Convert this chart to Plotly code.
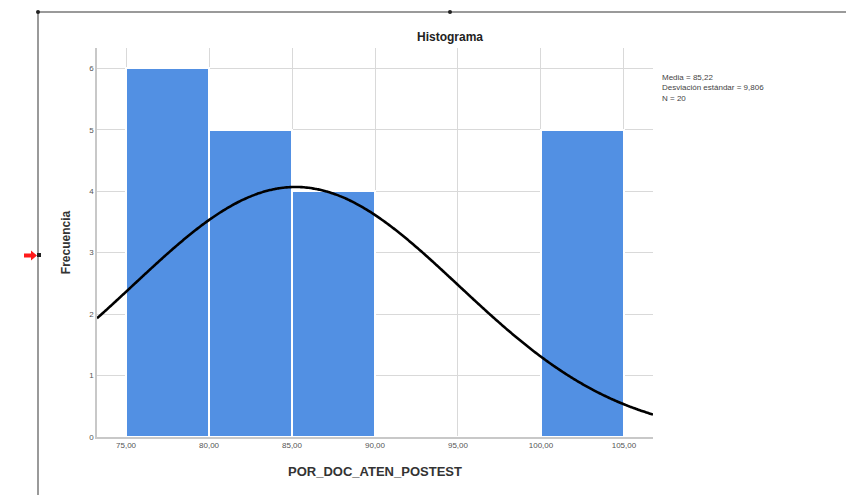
import numpy as np
import plotly.graph_objects as go

# Histogram data: bin edges and frequencies
bin_starts = [75, 80, 85, 90, 95, 100]
bin_width = 5
frequencies = [6, 5, 4, 0, 0, 5]

# Summary statistics shown beside the chart
mean = 85.22
std_dev = 9.806
n_obs = 20

x_ticks = [75, 80, 85, 90, 95, 100, 105]
x_tick_text = ["75,00", "80,00", "85,00", "90,00", "95,00", "100,00", "105,00"]
y_ticks = [0, 1, 2, 3, 4, 5, 6]

x_range = [73.25, 106.75]
y_range = [0, 6.33]

# Plot-area placement in page pixels
W, H = 846, 495
L, R, T, B = 97, 653, 48, 437


def px(x):
    return (x - L) / (R - L)


def py(y):
    return (B - y) / (B - T)


fig = go.Figure()

fig.add_trace(go.Bar(
    x=[s + bin_width / 2 for s in bin_starts],
    y=frequencies,
    width=[bin_width] * len(bin_starts),
    marker=dict(color="#5290e3", line=dict(color="white", width=2)),
    hoverinfo="skip",
))

# Normal curve scaled to counts (N * bin width * pdf)
xs = np.linspace(x_range[0], x_range[1], 300)
ys = n_obs * bin_width / (std_dev * np.sqrt(2 * np.pi)) * np.exp(-0.5 * ((xs - mean) / std_dev) ** 2)
fig.add_trace(go.Scatter(
    x=xs, y=ys, mode="lines",
    line=dict(color="black", width=2.6, shape="spline"),
    hoverinfo="skip",
))

shapes = [
    # outer frame lines
    dict(type="line", xref="paper", yref="paper", x0=px(38), x1=px(W), y0=py(12), y1=py(12),
         line=dict(color="#9a9a9a", width=2)),
    dict(type="line", xref="paper", yref="paper", x0=px(38), x1=px(38), y0=py(12), y1=py(H),
         line=dict(color="#9a9a9a", width=2)),
    # handle dots
    dict(type="circle", xref="paper", yref="paper", x0=px(36), x1=px(40), y0=py(10), y1=py(14),
         fillcolor="#222", line=dict(width=0)),
    dict(type="circle", xref="paper", yref="paper", x0=px(448), x1=px(452), y0=py(10), y1=py(14),
         fillcolor="#222", line=dict(width=0)),
    dict(type="rect", xref="paper", yref="paper", x0=px(37), x1=px(41), y0=py(253), y1=py(257),
         fillcolor="#222", line=dict(width=0)),
    # red marker
    dict(type="path", xref="paper", yref="paper",
         path=("M {a},{b} L {c},{b} L {c},{d} L {e},{f} L {c},{g} L {c},{h} L {a},{h} Z").format(
             a=px(24), b=py(253.5), c=px(31), d=py(250.5), e=px(37), f=py(255.5), g=py(260.5), h=py(257.5)),
         fillcolor="#ff1a1a", line=dict(width=0)),
]

fig.update_layout(
    width=W, height=H,
    margin=dict(l=L, r=W - R, t=T, b=H - B),
    paper_bgcolor="white", plot_bgcolor="white",
    showlegend=False,
    bargap=0,
    font=dict(family="Liberation Sans, Arial, sans-serif", color="#333"),
    title=dict(text="<b>Histograma</b>", xref="container", x=450 / W, xanchor="center",
               yref="container", y=1 - 37 / H, yanchor="middle", font=dict(size=12, color="#222")),
    xaxis=dict(
        range=x_range, tickvals=x_ticks, ticktext=x_tick_text,
        showgrid=True, gridcolor="#d9d9d9", gridwidth=1,
        showline=True, linecolor="#c8c8c8", linewidth=1.5,
        ticks="", tickfont=dict(size=8, color="#555"),
        title=dict(text="<b>POR_DOC_ATEN_POSTEST</b>", font=dict(size=13, color="#333"), standoff=18),
        zeroline=False, fixedrange=True,
    ),
    yaxis=dict(
        range=y_range, tickvals=y_ticks,
        showgrid=True, gridcolor="#d9d9d9", gridwidth=1,
        showline=True, linecolor="#c8c8c8", linewidth=1.5,
        ticks="", tickfont=dict(size=8, color="#555"),
        title=dict(text="<b>Frecuencia</b>", font=dict(size=12, color="#333"), standoff=16),
        zeroline=False, fixedrange=True,
    ),
    shapes=shapes,
    annotations=[
        dict(xref="paper", yref="paper", x=px(660), y=py(71), xanchor="left", yanchor="top",
             align="left", showarrow=False,
             text=("Media = {m}<br>Desviación estándar = {s}<br>N = {n}").format(
                 m=f"{mean:.2f}".replace(".", ","), s=f"{std_dev:.3f}".replace(".", ","), n=n_obs),
             font=dict(size=8, color="#444")),
    ],
)

fig.write_html("out.html")
